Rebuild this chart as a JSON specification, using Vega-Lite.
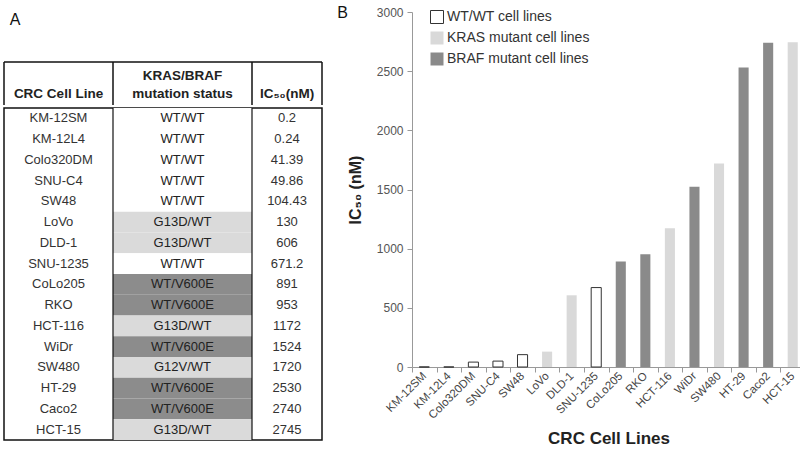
{
  "$schema": "https://vega.github.io/schema/vega-lite/v6.json",
  "background": "white",
  "padding": {"left": 3, "top": 5, "right": 5, "bottom": 0},
  "spacing": 14,
  "resolve": {"scale": {"fill": "independent", "stroke": "independent"}, "legend": {"fill": "independent", "stroke": "independent"}},
  "config": {
    "font": "Liberation Sans",
    "view": {"stroke": null},
    "text": {"font": "Liberation Sans"}
  },
  "datasets": {
    "cells": [
      {"line": "KM-12SM", "status": "WT/WT", "ic50": 0.2, "group": "WT/WT cell lines"},
      {"line": "KM-12L4", "status": "WT/WT", "ic50": 0.24, "group": "WT/WT cell lines"},
      {"line": "Colo320DM", "status": "WT/WT", "ic50": 41.39, "group": "WT/WT cell lines"},
      {"line": "SNU-C4", "status": "WT/WT", "ic50": 49.86, "group": "WT/WT cell lines"},
      {"line": "SW48", "status": "WT/WT", "ic50": 104.43, "group": "WT/WT cell lines"},
      {"line": "LoVo", "status": "G13D/WT", "ic50": 130, "group": "KRAS mutant cell lines"},
      {"line": "DLD-1", "status": "G13D/WT", "ic50": 606, "group": "KRAS mutant cell lines"},
      {"line": "SNU-1235", "status": "WT/WT", "ic50": 671.2, "group": "WT/WT cell lines"},
      {"line": "CoLo205", "status": "WT/V600E", "ic50": 891, "group": "BRAF mutant cell lines"},
      {"line": "RKO", "status": "WT/V600E", "ic50": 953, "group": "BRAF mutant cell lines"},
      {"line": "HCT-116", "status": "G13D/WT", "ic50": 1172, "group": "KRAS mutant cell lines"},
      {"line": "WiDr", "status": "WT/V600E", "ic50": 1524, "group": "BRAF mutant cell lines"},
      {"line": "SW480", "status": "G12V/WT", "ic50": 1720, "group": "KRAS mutant cell lines"},
      {"line": "HT-29", "status": "WT/V600E", "ic50": 2530, "group": "BRAF mutant cell lines"},
      {"line": "Caco2", "status": "WT/V600E", "ic50": 2740, "group": "BRAF mutant cell lines"},
      {"line": "HCT-15", "status": "G13D/WT", "ic50": 2745, "group": "KRAS mutant cell lines"}
    ],
    "one": [{}]
  },
  "hconcat": [
    {
      "spacing": 0,
      "vconcat": [
        {
          "width": 318,
          "height": 93,
          "data": {"name": "one"},
          "layer": [
            {
              "mark": {"type": "text", "text": "A", "fontSize": 16, "color": "#111", "baseline": "middle"},
              "encoding": {
                "x": {"datum": 11, "type": "quantitative", "scale": {"domain": [0, 318], "nice": false, "zero": false}, "axis": null},
                "y": {"datum": 8, "type": "quantitative", "scale": {"domain": [0, 93], "nice": false, "zero": false, "reverse": true}, "axis": null}
              }
            },
            {
              "data": {"values": [
                {"x": 0, "x2": 318, "y": 50, "y2": 50},
                {"x": 0, "x2": 0, "y": 50, "y2": 93},
                {"x": 109, "x2": 109, "y": 50, "y2": 93},
                {"x": 248, "x2": 248, "y": 50, "y2": 93},
                {"x": 318, "x2": 318, "y": 50, "y2": 93}
              ]},
              "mark": {"type": "rule", "color": "#111", "strokeWidth": 1.5},
              "encoding": {
                "x": {"field": "x", "type": "quantitative"},
                "x2": {"field": "x2"},
                "y": {"field": "y", "type": "quantitative"},
                "y2": {"field": "y2"}
              }
            },
            {
              "data": {"values": [
                {"t": "CRC Cell Line", "x": 54.5, "y": 86},
                {"t": "KRAS/BRAF", "x": 178.5, "y": 68},
                {"t": "mutation status", "x": 178.5, "y": 86},
                {"t": "IC₅₀(nM)", "x": 283, "y": 86}
              ]},
              "mark": {"type": "text", "fontSize": 13.5, "fontWeight": "bold", "color": "#222", "baseline": "alphabetic", "align": "center"},
              "encoding": {
                "x": {"field": "x", "type": "quantitative"},
                "y": {"field": "y", "type": "quantitative"},
                "text": {"field": "t", "type": "nominal"}
              }
            }
          ]
        },
        {
          "width": 318,
          "height": 332,
          "view": {"stroke": "#111", "strokeWidth": 1.5},
          "data": {"name": "cells"},
          "encoding": {
            "y": {"field": "line", "type": "nominal", "sort": null, "scale": {"paddingInner": 0, "paddingOuter": 0}, "axis": null}
          },
          "layer": [
            {
              "mark": {"type": "rect"},
              "encoding": {
                "x": {"datum": 109, "type": "quantitative", "scale": {"domain": [0, 318], "nice": false, "zero": false}, "axis": null},
                "x2": {"datum": 248},
                "fill": {"field": "group", "type": "nominal", "legend": null,
                  "scale": {"domain": ["WT/WT cell lines", "KRAS mutant cell lines", "BRAF mutant cell lines"], "range": ["#ffffff", "#dadada", "#8c8c8c"]}}
              }
            },
            {
              "mark": {"type": "text", "fontSize": 13, "color": "#333"},
              "encoding": {
                "x": {"datum": 54.5, "type": "quantitative"},
                "text": {"field": "line", "type": "nominal"}
              }
            },
            {
              "mark": {"type": "text", "fontSize": 13, "color": "#222"},
              "encoding": {
                "x": {"datum": 178.5, "type": "quantitative"},
                "text": {"field": "status", "type": "nominal"}
              }
            },
            {
              "mark": {"type": "text", "fontSize": 13, "color": "#333"},
              "encoding": {
                "x": {"datum": 283, "type": "quantitative"},
                "text": {"field": "ic50", "type": "nominal"}
              }
            },
            {
              "data": {"values": [{"x": 109}, {"x": 248}]},
              "mark": {"type": "rule", "color": "#111", "strokeWidth": 1.2},
              "encoding": {
                "x": {"field": "x", "type": "quantitative"},
                "y": null
              }
            }
          ]
        }
      ]
    },
    {
      "width": 393,
      "height": 355,
      "data": {"name": "cells"},
      "layer": [
        {
          "mark": {"type": "text", "text": "B", "fontSize": 16, "color": "#111", "align": "left", "baseline": "middle", "dx": -87, "dy": 1},
          "data": {"name": "one"},
          "encoding": {
            "x": {"datum": "KM-12SM"},
            "y": {"datum": 3000}
          }
        },
        {
          "mark": {"type": "bar", "width": {"band": 0.41}, "strokeWidth": 1},
          "encoding": {
            "x": {
              "field": "line", "type": "nominal", "sort": null,
              "scale": {"paddingInner": 0, "paddingOuter": 0},
              "axis": {
                "title": "CRC Cell Lines", "titleFontSize": 17, "titleFontWeight": "bold", "titleColor": "#222", "titlePadding": 10,
                "labelAngle": -45, "labelAlign": "right", "labelBaseline": "middle", "labelFontSize": 11.5, "labelColor": "#444",
                "labelPadding": 2, "tickBand": "extent", "tickSize": 5, "tickColor": "#999", "domainColor": "#999"
              }
            },
            "y": {
              "field": "ic50", "type": "quantitative",
              "scale": {"domain": [0, 3000]},
              "axis": {
                "title": "IC₅₀ (nM)", "titleFontSize": 16, "titleFontWeight": "bold", "titleColor": "#222", "titlePadding": 13,
                "values": [0, 500, 1000, 1500, 2000, 2500, 3000], "format": "d", "grid": false, "labelFontSize": 12, "labelColor": "#555",
                "tickSize": 5, "tickColor": "#999", "domainColor": "#999", "labelPadding": 4
              }
            },
            "fill": {
              "field": "group", "type": "nominal",
              "scale": {"domain": ["WT/WT cell lines", "KRAS mutant cell lines", "BRAF mutant cell lines"], "range": ["#ffffff", "#d9d9d9", "#8a8a8a"]},
              "legend": {"title": null, "orient": "none", "legendX": 18, "legendY": -2, "symbolType": "square", "symbolSize": 169, "labelFontSize": 14, "labelColor": "#333", "rowPadding": 3, "labelOffset": 3, "symbolStrokeWidth": 1}
            },
            "stroke": {
              "field": "group", "type": "nominal",
              "scale": {"domain": ["WT/WT cell lines", "KRAS mutant cell lines", "BRAF mutant cell lines"], "range": ["#333333", "transparent", "transparent"]},
              "legend": {"title": null, "orient": "none", "legendX": 18, "legendY": -2, "symbolType": "square", "symbolSize": 169, "labelFontSize": 14, "labelColor": "#333", "rowPadding": 3, "labelOffset": 3, "symbolStrokeWidth": 1}
            }
          }
        }
      ]
    }
  ]
}
